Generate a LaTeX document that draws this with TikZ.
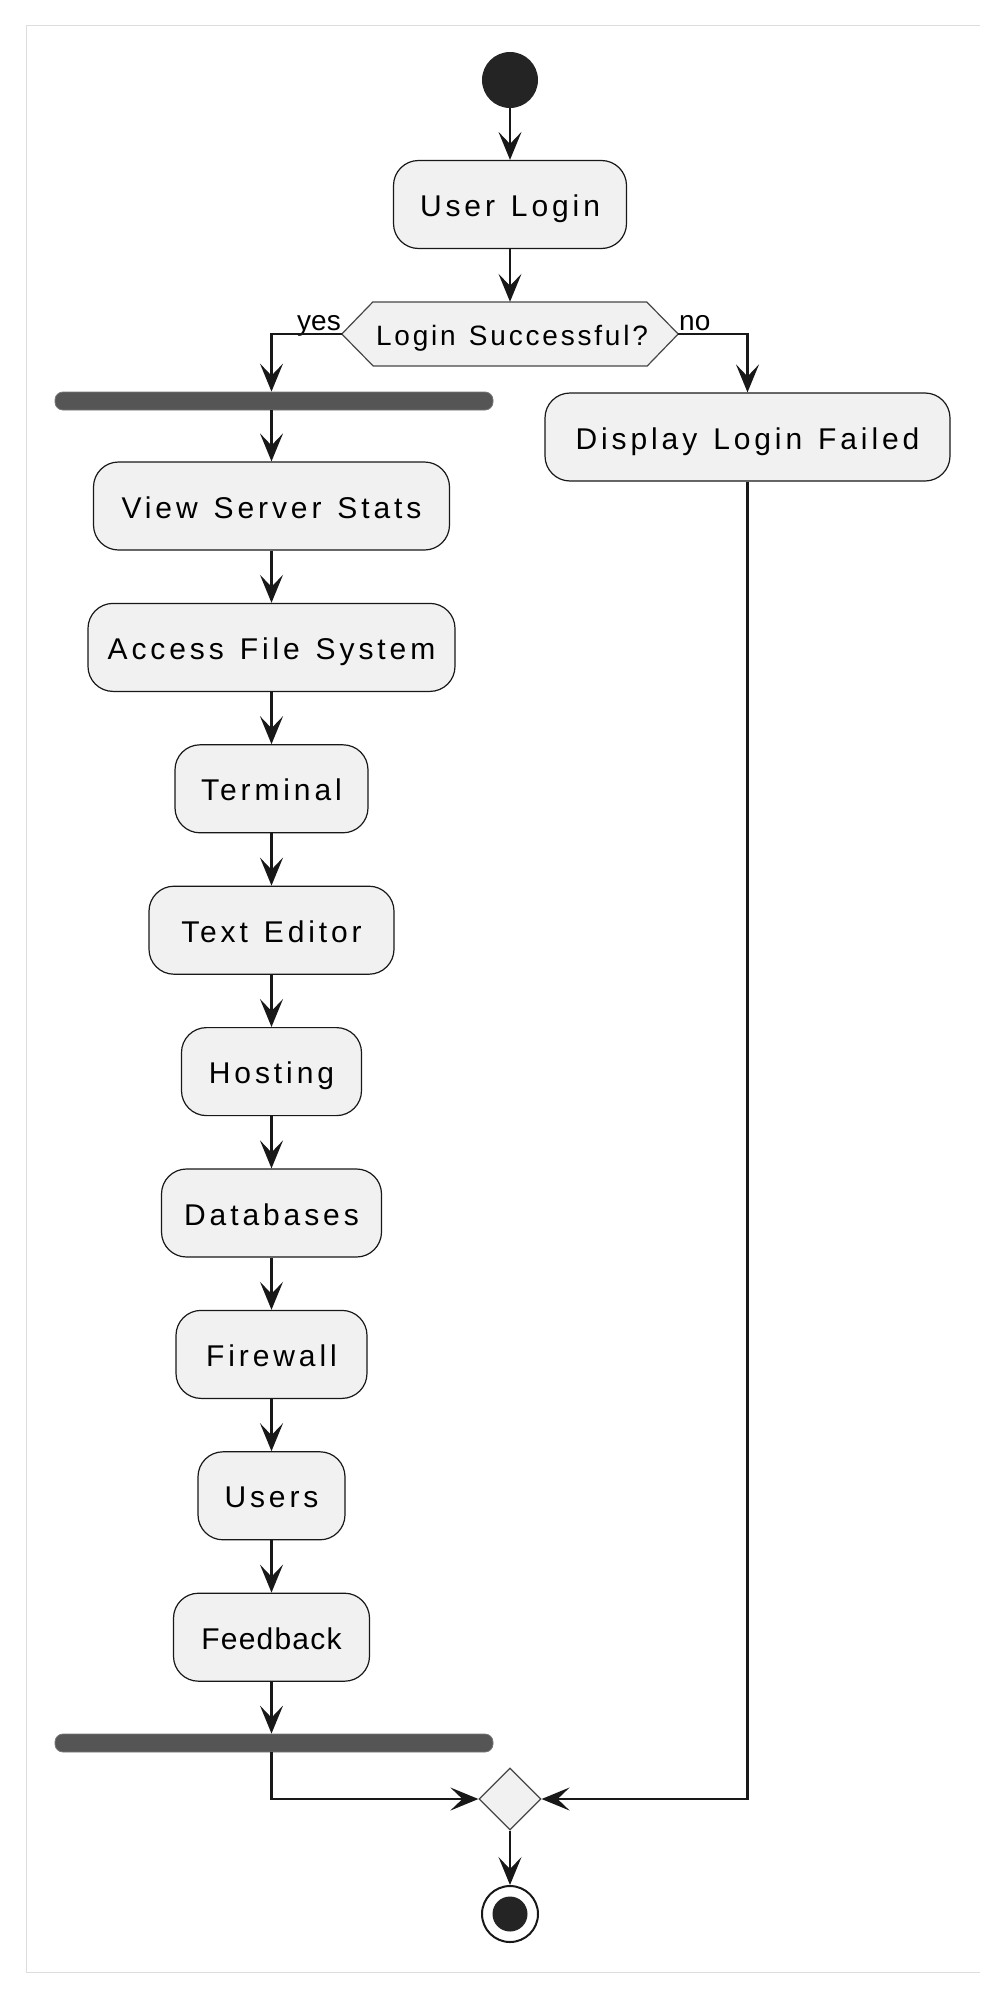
\documentclass[tikz,border=0pt]{standalone}
\usepackage{fontspec}
\setmainfont{Liberation Sans}
\newfontfamily\actfont[LetterSpace=13,WordSpace=1.3]{Liberation Sans}
\newfontfamily\decfont[LetterSpace=10,WordSpace=1.25]{Liberation Sans}
\newfontfamily\fbfont[LetterSpace=4]{Liberation Sans}
\usetikzlibrary{arrows.meta,shapes.geometric}
\definecolor{boxfill}{HTML}{F1F1F1}
\definecolor{ink}{HTML}{181818}
\definecolor{barfill}{HTML}{555555}
\definecolor{framecol}{HTML}{DDDDDD}
\tikzset{
  act/.style={draw=ink, line width=1.2pt, fill=boxfill, rounded corners=25pt,
    minimum height=88pt, inner xsep=0pt, inner ysep=0pt,
    text height=24pt, text depth=0pt, font=\actfont\fontsize{30}{36}\selectfont},
  bar/.style={draw=barfill!80!white, line width=0.8pt, fill=barfill, rounded corners=8pt,
    minimum width=438pt, minimum height=18pt, inner sep=0pt},
  arr/.style={draw=ink, line width=2.2pt,
    -{Stealth[length=28pt, width=23pt, inset=12pt]}},
  lbl/.style={inner sep=0pt, font=\fontsize{28}{32}\selectfont},
}
\begin{document}
\begin{tikzpicture}[x=1pt,y=-1pt]
\useasboundingbox (0,0) rectangle (1007,1999);
\draw[framecol, line width=1pt] (980,26) -- (26,26) -- (26,1972) -- (980,1972);

% start
\node[circle, fill=ink!95!white, minimum size=56pt, inner sep=0pt] (start) at (510,80) {};
\node[act, minimum width=233pt] (login) at (510,204.5) {User Login};

% decision
\node[minimum width=336pt, minimum height=64pt, inner sep=0pt] (dec) at (510,334) {};
\draw[draw=ink!80!white, line width=1.2pt, fill=boxfill]
  (dec.west) -- ++(31,-32) -- ++(274,0) -- (dec.east) -- ++(-31,32) -- ++(-274,0) -- cycle;
\node[inner sep=0pt, text height=22pt, text depth=0pt,
  font=\decfont\fontsize{28}{32}\selectfont] (dectext) at (512,334) {Login Successful?};
\node[lbl, anchor=base east] (yes) at (341,330) {yes};
\node[lbl, anchor=base west] (no) at (679,330) {no};

% fork bar
\node[bar] (fork) at (274,401) {};
\node[act, minimum width=405pt] (fail) at (747.5,437) {Display Login Failed};

% column
\node[act, minimum width=356pt] (view) at (271.5,506) {View Server Stats};
\node[act, minimum width=367pt] (access) at (271.5,647.4) {Access File System};
\node[act, minimum width=193pt] (term) at (271.5,788.8) {Terminal};
\node[act, minimum width=245pt] (edit) at (271.5,930.2) {Text Editor};
\node[act, minimum width=180pt] (host) at (271.5,1071.6) {Hosting};
\node[act, minimum width=220pt] (db) at (271.5,1213) {Databases};
\node[act, minimum width=191pt] (fw) at (271.5,1354.4) {Firewall};
\node[act, minimum width=147pt] (users) at (271.5,1495.8) {Users};
\node[act, minimum width=196pt, font=\fbfont\fontsize{30}{36}\selectfont] (fb) at (271.5,1637.2) {Feedback};

\node[bar] (join) at (274,1743) {};

% merge and end
\node[diamond, aspect=1, draw=ink!80!white, line width=1.2pt, fill=boxfill,
  minimum size=62pt, inner sep=0pt] (merge) at (510,1799) {};
\node[circle, draw=ink, line width=2pt, fill=white, minimum size=56pt, inner sep=0pt] (endo) at (510,1914) {};
\node[circle, fill=ink!95!white, minimum size=35pt, inner sep=0pt] (endi) at (510,1914) {};

% connectors
\draw[arr] (start) -- (login);
\draw[arr] (login) -- (dec.north);
\draw[arr] (dec.west) -| (view.north |- fork.north);
\draw[arr] (dec.east) -| (fail.north);
\draw[arr] (view.north |- fork.south) -- (view.north);
\draw[arr] (view) -- (access);
\draw[arr] (access) -- (term);
\draw[arr] (term) -- (edit);
\draw[arr] (edit) -- (host);
\draw[arr] (host) -- (db);
\draw[arr] (db) -- (fw);
\draw[arr] (fw) -- (users);
\draw[arr] (users) -- (fb);
\draw[arr] (fb.south) -- (fb.south |- join.north);
\draw[arr] (fb.south |- join.south) |- (merge.west);
\draw[arr] (fail.south) |- (merge.east);
\draw[arr] (merge.south) -- (endo.north);
\end{tikzpicture}
\end{document}
